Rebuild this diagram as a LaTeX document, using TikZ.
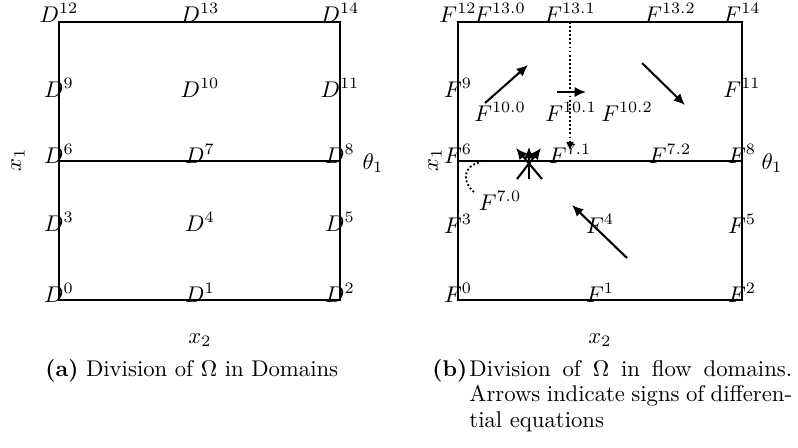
\documentclass[tikz,border=0pt]{standalone}
\usepackage{tikz}
\usetikzlibrary{arrows.meta}

\begin{document}
\begin{tikzpicture}[x=0.44pt, y=-0.44pt,
  lab/.style={anchor=base, inner sep=0pt},
  edge/.style={line width=0.9pt},
  flow/.style={line width=0.9pt, -{Latex[length=5pt,width=4.5pt]}}]
\useasboundingbox (0,0) rectangle (798,447);
\coordinate (a0) at (59,300);
\coordinate (a2) at (340,300);
\coordinate (a6) at (59,161);
\coordinate (a8) at (340,161);
\coordinate (a12) at (59,22);
\coordinate (a14) at (340,22);
\draw[edge] (a0) -- (a2) -- (a14) -- (a12) -- cycle;
\draw[edge] (a6) -- (a8);
\node[lab] (d12) at (59,22) {$D^{12}$};
\node[lab] (d13) at (200,22) {$D^{13}$};
\node[lab] (d14) at (340,22) {$D^{14}$};
\node[lab] (d9) at (59,97) {$D^{9}$};
\node[lab] (d10) at (200,97) {$D^{10}$};
\node[lab] (d11) at (340,97) {$D^{11}$};
\node[lab] (d6) at (59,163) {$D^{6}$};
\node[lab] (d7) at (200,163) {$D^{7}$};
\node[lab] (d8) at (340,163) {$D^{8}$};
\node[lab] (d3) at (59,231) {$D^{3}$};
\node[lab] (d4) at (200,231) {$D^{4}$};
\node[lab] (d5) at (340,231) {$D^{5}$};
\node[lab] (d0) at (59,302) {$D^{0}$};
\node[lab] (d1) at (200,302) {$D^{1}$};
\node[lab] (d2) at (340,302) {$D^{2}$};
\node (xa1) at (18,160) [rotate=90] {$x_1$};
\node (xa2) at (200,340) {$x_2$};
\node (tha) at (373,163) {$\theta_1$};
\coordinate (b0) at (458,300);
\coordinate (b2) at (742,300);
\coordinate (b6) at (458,161);
\coordinate (b8) at (742,161);
\coordinate (b12) at (458,22);
\coordinate (b14) at (742,22);
\draw[edge] (b0) -- (b2) -- (b14) -- (b12) -- cycle;
\draw[edge] (b6) -- (b8);
\node[lab] (f12) at (458,22) {$F^{12}$};
\node[lab] (f130) at (500,22) {$F^{13.0}$};
\node[lab] (f131) at (570,22) {$F^{13.1}$};
\node[lab] (f132) at (670,22) {$F^{13.2}$};
\node[lab] (f14) at (742,22) {$F^{14}$};
\node[lab] (f9) at (458,97) {$F^{9}$};
\node[lab] (f100) at (500,121) {$F^{10.0}$};
\node[lab] (f101) at (571,121) {$F^{10.1}$};
\node[lab] (f102) at (627,121) {$F^{10.2}$};
\node[lab] (f11) at (742,97) {$F^{11}$};
\node[lab] (f6) at (458,163) {$F^{6}$};
\node[lab] (f71) at (570,163) {$F^{7.1}$};
\node[lab] (f72) at (670,163) {$F^{7.2}$};
\node[lab] (f8) at (742,163) {$F^{8}$};
\node[lab] (f70) at (500,210) {$F^{7.0}$};
\node[lab] (f3) at (458,233) {$F^{3}$};
\node[lab] (f4) at (600,233) {$F^{4}$};
\node[lab] (f5) at (742,233) {$F^{5}$};
\node[lab] (f0) at (458,302) {$F^{0}$};
\node[lab] (f1) at (600,302) {$F^{1}$};
\node[lab] (f2) at (742,302) {$F^{2}$};
\node (xb1) at (435,160) [rotate=90] {$x_1$};
\node (xb2) at (600,340) {$x_2$};
\node (thb) at (772,163) {$\theta_1$};
\coordinate (p1) at (485,103);
\coordinate (q1) at (528,65);
\coordinate (p2) at (557,92);
\coordinate (q2) at (586,92);
\coordinate (p3) at (642,63);
\coordinate (q3) at (685,105);
\coordinate (p4) at (627,258);
\coordinate (q4) at (572,205);
\draw[flow] (p1) -- (q1);
\draw[flow] (p2) -- (q2);
\draw[flow] (p3) -- (q3);
\draw[flow] (p4) -- (q4);
\coordinate (s0) at (570,22);
\coordinate (s1) at (570,151);
\draw[densely dotted, line width=0.8pt, -{Latex[length=4pt,width=3.5pt]}] (s0) -- (s1);
\coordinate (c0) at (517,179);
\coordinate (c1) at (541,148);
\coordinate (c2) at (542,179);
\coordinate (c3) at (516,148);
\coordinate (c4) at (529,179);
\coordinate (c5) at (529,147);
\draw[flow] (c0) -- (c1);
\draw[flow] (c2) -- (c3);
\draw[flow] (c4) -- (c5);
\coordinate (e0) at (474,192);
\coordinate (e1) at (481,162);
\draw[densely dotted, line width=0.8pt] (e0) .. controls (462,182) and (462,166) .. (e1);
\node[anchor=base west, inner sep=0pt] (capa) at (45,376) {\textbf{(a)} Division of $\Omega$ in Domains};
\node[anchor=base west, inner sep=0pt] (capb) at (432,376) {\textbf{(b)}};
\node[anchor=base west, inner sep=0pt, text width=142pt, align=justify] (capbt) at (469,376) {\baselineskip=11.3pt Division of $\Omega$ in flow domains.\linebreak Arrows indicate signs of differen-\linebreak tial equations\par};
\end{tikzpicture}
\end{document}
